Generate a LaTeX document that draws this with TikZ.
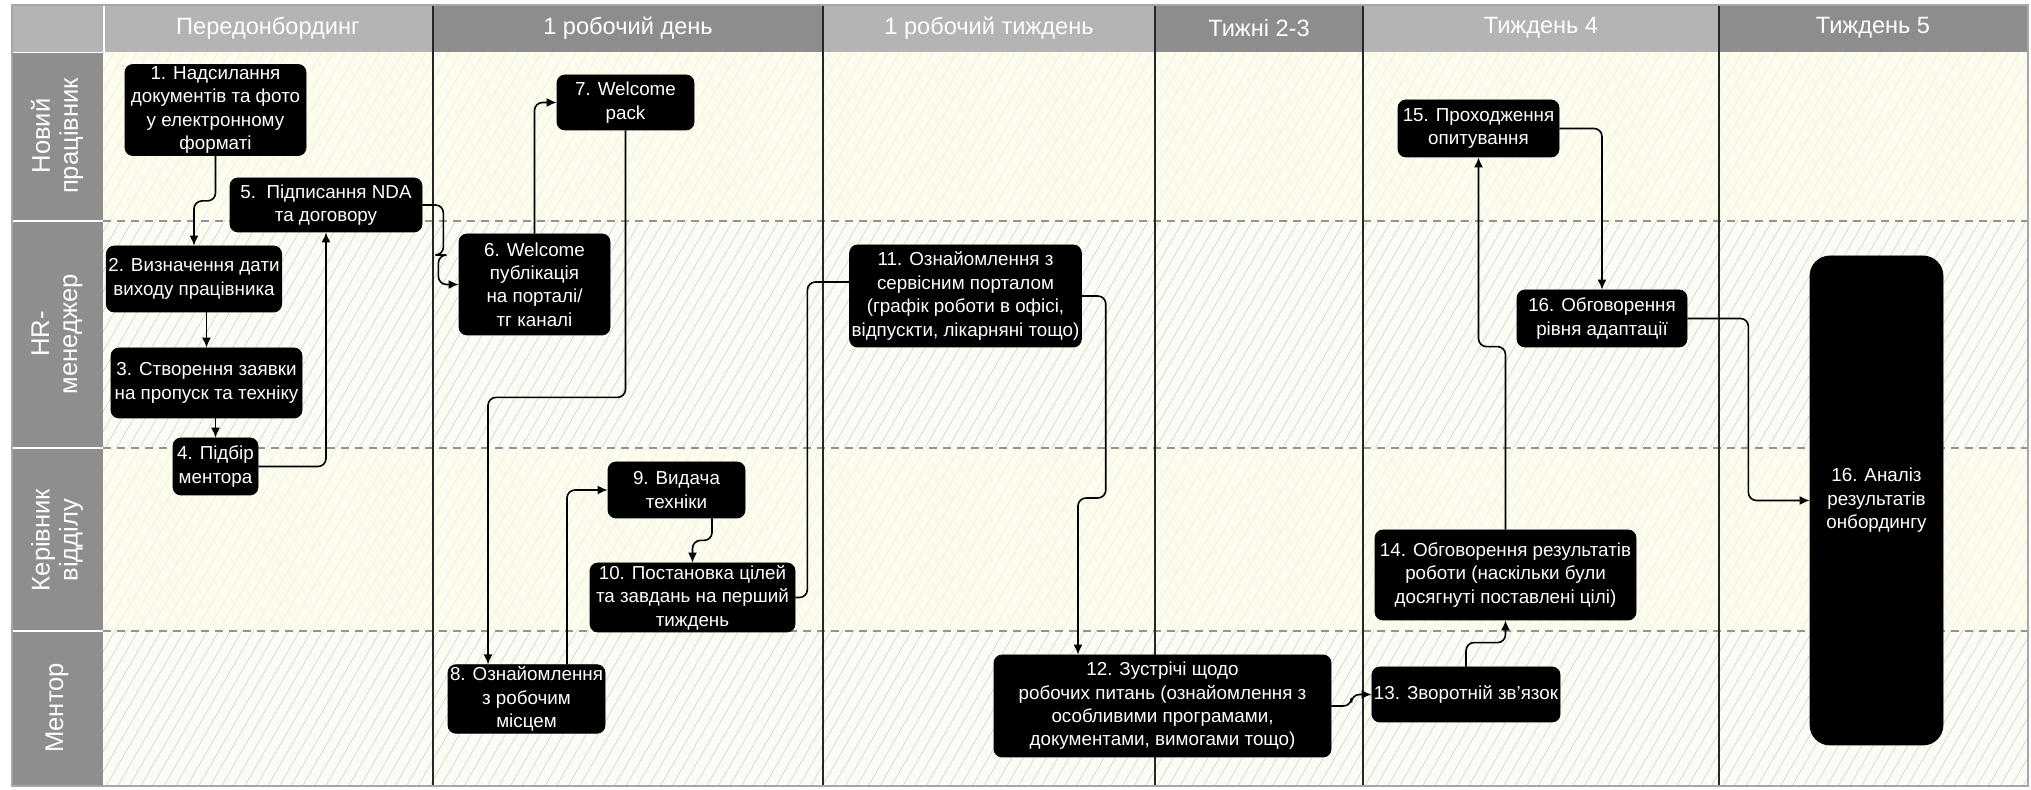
\documentclass[tikz,border=0pt]{standalone}
\usepackage{fontspec}
\setmainfont{Liberation Sans}
\usetikzlibrary{arrows.meta}
\usetikzlibrary{calc, patterns.meta}

\definecolor{hdrlight}{HTML}{B4B4B4}
\definecolor{hdrdark}{HTML}{8D8D8D}
\definecolor{lanegray}{HTML}{8E8E8E}
\definecolor{creama}{HTML}{FDFCEC}
\definecolor{creamb}{HTML}{FCFBF4}

\tikzset{
  stepbox/.style={draw=black, fill=black, text=white, rounded corners=4pt, align=center, inner sep=1pt, font=\fontsize{9.4}{11.7}\selectfont},
  flow/.style={draw=black, line width=0.8pt, rounded corners=4pt, -{Latex[length=5pt,width=4.5pt]}},
  conn/.style={draw=black, line width=0.8pt, rounded corners=4pt},
  lanesep/.style={draw=gray!85, line width=0.6pt, dash pattern=on 4pt off 3pt},
  colsep/.style={draw=black!85, line width=0.7pt},
  hdr/.style={text=white, font=\fontsize{11.8}{14}\selectfont},
  lanelbl/.style={text=white, rotate=90, align=center, font=\fontsize{12.8}{14}\selectfont},
}

\begin{document}
\begin{tikzpicture}[x=0.5pt, y=-0.5pt]
  \useasboundingbox (0,0) rectangle (2031,790);

  % lanes
  \fill[creama] (103,52) rectangle (2028,221);
  \fill[pattern={Lines[angle=60,distance=5pt,line width=0.4pt]}, pattern color=gray!12] (103,52) rectangle (2028,221);
  \fill[creamb] (103,221) rectangle (2028,448);
  \fill[pattern={Lines[angle=60,distance=5pt,line width=0.4pt]}, pattern color=gray!30] (103,221) rectangle (2028,448);
  \fill[creama] (103,448) rectangle (2028,631);
  \fill[pattern={Lines[angle=60,distance=5pt,line width=0.4pt]}, pattern color=gray!12] (103,448) rectangle (2028,631);
  \fill[creamb] (103,631) rectangle (2028,786);
  \fill[pattern={Lines[angle=60,distance=5pt,line width=0.4pt]}, pattern color=gray!30] (103,631) rectangle (2028,786);

  % header row
  \fill[hdrlight] (12,5) rectangle (103,52);
  \fill[hdrlight] (105,5) rectangle (433,52);
  \fill[hdrdark] (433,5) rectangle (823,52);
  \fill[hdrlight] (823,5) rectangle (1155,52);
  \fill[hdrdark] (1155,5) rectangle (1363,52);
  \fill[hdrlight] (1363,5) rectangle (1719,52);
  \fill[hdrdark] (1719,5) rectangle (2028,52);

  \node[hdr] (h1) at (268,28) {Передонбординг};
  \node[hdr] (h2) at (628,28) {1 робочий день};
  \node[hdr] (h3) at (989,28) {1 робочий тиждень};
  \node[hdr] (h4) at (1259,28) {Тижні 2-3};
  \node[hdr] (h5) at (1541,28) {Тиждень 4};
  \node[hdr] (h6) at (1873,28) {Тиждень 5};

  % lane labels
  \fill[lanegray] (12,53) rectangle (103,220);
  \fill[lanegray] (12,222) rectangle (103,447);
  \fill[lanegray] (12,449) rectangle (103,630);
  \fill[lanegray] (12,632) rectangle (103,786);

  \node[lanelbl] (l1) at (57,136) {Новий\\працівник};
  \node[lanelbl] (l2) at (57,334) {HR-\\менеджер};
  \node[lanelbl] (l3) at (57,540) {Керівник\\відділу};
  \node[lanelbl] (l4) at (57,708) {Ментор};

  % separators
  \draw[lanesep] (103,221) -- (2028,221);
  \draw[lanesep] (103,448) -- (2028,448);
  \draw[lanesep] (103,631) -- (2028,631);

  \draw[colsep] (433,5) -- (433,786);
  \draw[colsep] (823,5) -- (823,786);
  \draw[colsep] (1155,5) -- (1155,786);
  \draw[colsep] (1363,5) -- (1363,786);
  \draw[colsep] (1719,5) -- (1719,786);
  \draw[gray!70, line width=0.6pt] (12,5) rectangle (2028,786);

  % steps
  \node[stepbox, minimum width=90.5pt, minimum height=43pt] (n1) at (215.5,110) {1. Надсилання\\документів та фото\\у електронному\\форматі};
  \node[stepbox, minimum width=83pt, minimum height=33pt] (n2) at (194,279) {2. Визначення дати\\виходу працівника};
  \node[stepbox, minimum width=95.5pt, minimum height=35pt] (n3) at (206.5,383) {3. Створення заявки\\на пропуск та техніку};
  \node[stepbox, minimum width=42.5pt, minimum height=28.5pt] (n4) at (215.5,466.5) {4. Підбір\\ментора};
  \node[stepbox, minimum width=96pt, minimum height=27pt] (n5) at (326,205) {5.\ \ Підписання NDA\\та договору};
  \node[stepbox, minimum width=75.5pt, minimum height=50.5pt] (n6) at (534.5,284.5) {6. Welcome\\публікація\\на порталі/\\тг каналі};
  \node[stepbox, minimum width=68.5pt, minimum height=27.5pt] (n7) at (625.5,102.5) {7. Welcome\\pack};
  \node[stepbox, minimum width=78.5pt, minimum height=34pt] (n8) at (526.5,699) {8. Ознайомлення\\з робочим\\місцем};
  \node[stepbox, minimum width=68.5pt, minimum height=28pt] (n9) at (676.5,490) {9. Видача\\техніки};
  \node[stepbox, minimum width=102.5pt, minimum height=34.5pt] (n10) at (692.5,597.5) {10. Постановка цілей\\та завдань на перший\\тиждень};
  \node[stepbox, minimum width=112.5pt, minimum height=51pt] (n11) at (965.5,296) {11. Ознайомлення з\\сервісним порталом\\(графік роботи в офісі,\\відпускти, лікарняні тощо)};
  \node[stepbox, minimum width=168.5pt, minimum height=51pt] (n12) at (1162.5,706) {12. Зустрічі щодо\\робочих питань (ознайомлення з\\особливими програмами,\\документами, вимогами тощо)};
  \node[stepbox, minimum width=92pt, minimum height=27.5pt] (n13) at (1466,694.5) {13. Зворотній зв'язок};
  \node[stepbox, minimum width=130.5pt, minimum height=45pt] (n14) at (1505.5,575) {14. Обговорення результатів\\роботи (наскільки були\\досягнуті поставлені цілі)};
  \node[stepbox, minimum width=80.5pt, minimum height=28.5pt] (n15) at (1478.5,128.5) {15. Проходження\\опитування};
  \node[stepbox, minimum width=85pt, minimum height=28.5pt] (n16) at (1602,318.5) {16. Обговорення\\рівня адаптації};
  \node[stepbox, rounded corners=10pt, minimum width=66.5pt, minimum height=244.5pt] (analiz) at (1876.5,500.5) {16. Аналіз\\результатів\\онбордингу};

  % flow
  \draw[flow] (n1.south) -- ++(0,45) -| (n2.north);
  \draw[flow] (n2.south -| n3.north) -- (n3.north);
  \draw[flow] (n3.south -| n4.north) -- (n4.north);
  \draw[flow] (n4.east) -| (n5.south);
  \draw[flow] (n5.east) -- ++(21,0) -- ++(0,50) -- ++(-5,0) |- (n6.west);
  \draw[flow] (n6.north) |- (n7.west);
  \draw[flow] (n7.south) -- ++(0,267) -| ($(n8.north)+(-38.5,0)$);
  \draw[flow] ($(n8.north)+(40.5,0)$) |- (n9.west);
  \draw[flow] ($(n9.south)+(35.5,0)$) -- ++(0,22) -| (n10.north);
  \draw[conn] (n10.east) -- ++(12,0) |- ($(n11.west)+(0,-14)$);
  \draw[flow] (n11.east) -- ++(24,0) -- ++(0,202) -| ($(n12.north)+(-84.5,0)$);
  \draw[flow] (n12.east) -- ++(20,0) |- (n13.west);
  \draw[flow] (n13.north) -- ++(0,-24) -| (n14.south);
  \draw[flow] (n14.north) -- ++(0,-183) -| (n15.south);
  \draw[flow] (n15.east) -| (n16.north);
  \draw[flow] (n16.east) -- ++(61,0) |- (analiz.west);
\end{tikzpicture}
\end{document}
